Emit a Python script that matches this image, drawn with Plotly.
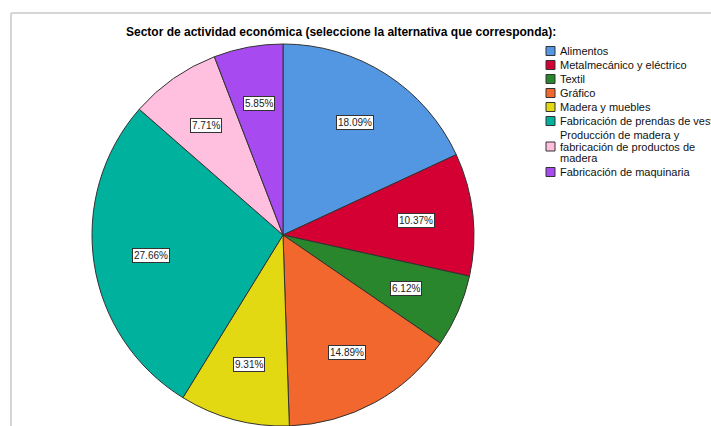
import math
import plotly.graph_objects as go

W, H = 711, 426

categories = [
    "Alimentos",
    "Metalmecánico y eléctrico",
    "Textil",
    "Gráfico",
    "Madera y muebles",
    "Fabricación de prendas de vestir",
    "Producción de madera y fabricación de productos de madera",
    "Fabricación de maquinaria",
]
legend_lines = [
    ["Alimentos"],
    ["Metalmecánico y eléctrico"],
    ["Textil"],
    ["Gráfico"],
    ["Madera y muebles"],
    ["Fabricación de prendas de vestir"],
    ["Producción de madera y", "fabricación de productos de", "madera"],
    ["Fabricación de maquinaria"],
]
percentages = [18.09, 10.37, 6.12, 14.89, 9.31, 27.66, 7.71, 5.85]
colors = ["#5396E2", "#D40034", "#2A862D", "#F2672D", "#E2D912",
          "#00B19E", "#FFC0E0", "#A74AF0"]

title_text = "Sector de actividad económica (seleccione la alternativa que corresponda):"
FONT = "Liberation Sans, Arial, sans-serif"

# pie placement (pixels)
cx, cy_top, R = 283, 235, 191
dom_x = [(cx - R) / W, (cx + R) / W]
dom_y = [0, (2 * R) / H]

fig = go.Figure(go.Pie(
    labels=categories,
    values=percentages,
    sort=False,
    direction="clockwise",
    rotation=0,
    marker=dict(colors=colors, line=dict(color="#333333", width=1)),
    textinfo="none",
    hoverinfo="label+percent",
    showlegend=False,
    domain=dict(x=dom_x, y=dom_y),
))

annotations = []
shapes = []

# percentage labels at mid-angle of each slice
total = sum(percentages)
cum = 0.0
rf = 0.70
for v in percentages:
    mid = (cum + v / 2) / total * 2 * math.pi
    cum += v
    px = cx + rf * R * math.sin(mid)
    py = cy_top - rf * R * math.cos(mid)
    annotations.append(dict(
        x=px / W, y=1 - py / H, xref="paper", yref="paper",
        text=f"{v:.2f}%", showarrow=False,
        font=dict(family=FONT, size=10, color="#222222"),
        bgcolor="white", bordercolor="#333333", borderwidth=1, borderpad=1,
        xanchor="center", yanchor="middle",
    ))

# title
annotations.append(dict(
    x=341 / W, y=1 - 32 / H, xref="paper", yref="paper",
    text=f"<b>{title_text}</b>", showarrow=False,
    font=dict(family=FONT, size=12, color="black"),
    xanchor="center", yanchor="middle",
))

# manual legend
lx, ly, step, line_h, sq = 546, 51, 14, 11.5, 9
y = ly
for lines, col in zip(legend_lines, colors):
    nl = len(lines)
    center = y + (nl - 1) * line_h / 2
    shapes.append(dict(
        type="rect", xref="paper", yref="paper",
        x0=lx / W, x1=(lx + sq) / W,
        y0=1 - (center - sq / 2) / H, y1=1 - (center + sq / 2) / H,
        fillcolor=col, line=dict(color="#333333", width=1),
    ))
    for i, t in enumerate(lines):
        annotations.append(dict(
            x=(lx + sq + 3) / W, y=1 - (y + i * line_h) / H,
            xref="paper", yref="paper",
            text=t, showarrow=False, align="left",
            font=dict(family=FONT, size=11, color="#111111"),
            xanchor="left", yanchor="middle",
        ))
    y += step + (nl - 1) * line_h

# frame
shapes.append(dict(type="line", xref="paper", yref="paper",
                   x0=11 / W, x1=11 / W, y0=0, y1=1 - 13 / H,
                   line=dict(color="#D6D6D6", width=2)))
shapes.append(dict(type="line", xref="paper", yref="paper",
                   x0=11 / W, x1=1, y0=1 - 13 / H, y1=1 - 13 / H,
                   line=dict(color="#D6D6D6", width=2)))

fig.update_layout(
    width=W, height=H,
    margin=dict(l=0, r=0, t=0, b=0),
    paper_bgcolor="white",
    plot_bgcolor="white",
    annotations=annotations,
    shapes=shapes,
    showlegend=False,
)

fig.write_html("out.html")
